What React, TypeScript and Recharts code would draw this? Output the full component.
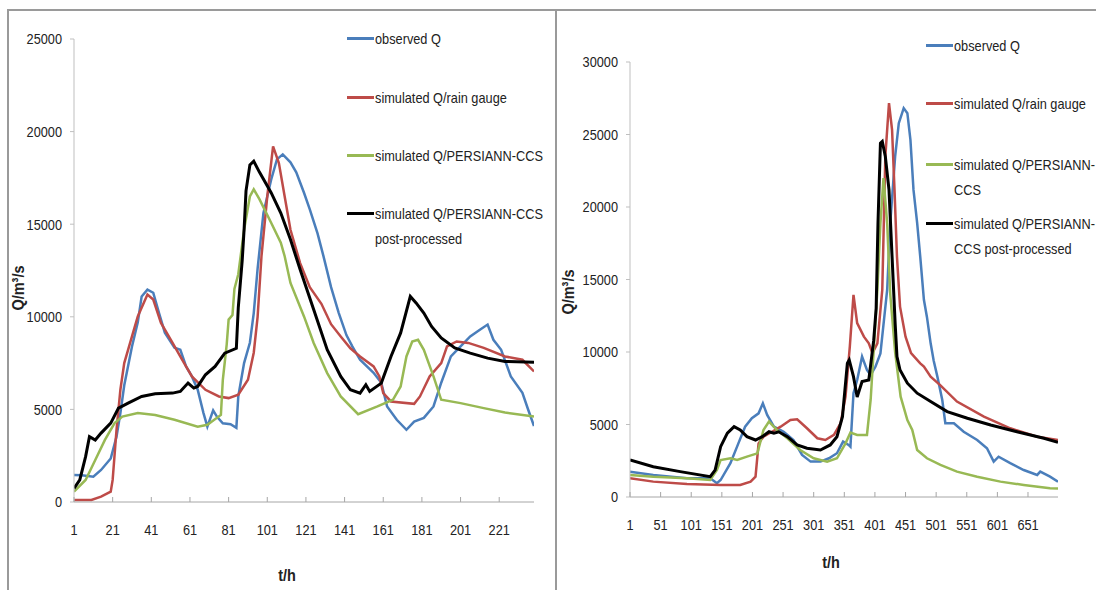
import { LineChart, Line, XAxis, YAxis } from 'recharts';

type Pt = [number, number];

// left event, hours 1..239, discharge m3/s
const leftObserved: Pt[] = [
  [1, 1460], [5, 1450], [11, 1370], [15, 1730], [20, 2350], [23, 3530], [25, 4800], [27, 6300],
  [31, 8400], [34, 9700], [36, 11100], [39, 11470], [42, 11300], [45, 10200], [48, 9140], [53, 8330],
  [56, 8220], [59, 7320], [62, 6780], [65, 6060], [68, 4800], [70, 4070], [73, 4950], [75, 4600],
  [78, 4250], [82, 4200], [85, 4000], [86, 5700], [89, 7500], [92, 8600], [94, 10200], [96, 12600],
  [99, 15600], [103, 17400], [106, 18500], [109, 18770], [113, 18340], [116, 17800], [120, 16700],
  [123, 15800], [127, 14500], [130, 13300], [134, 11600], [138, 10200], [142, 9000], [145, 8400],
  [149, 7680], [156, 6980], [160, 6440], [163, 5160], [168, 4440], [173, 3900], [177, 4340],
  [182, 4540], [187, 5160], [191, 6440], [196, 7860], [201, 8400], [206, 8940], [211, 9300],
  [215, 9580], [218, 8760], [222, 8220], [227, 6780], [233, 5900], [236, 4980], [239, 4100],
];
const leftRainGauge: Pt[] = [
  [1, 110], [10, 110], [15, 290], [20, 560], [21, 1190], [23, 3900], [25, 6060], [27, 7500],
  [31, 8940], [34, 10020], [39, 11200], [42, 10930], [46, 9670], [52, 8590], [57, 7680], [62, 6780],
  [69, 6060], [76, 5700], [81, 5610], [86, 5790], [91, 6600], [94, 8060], [96, 10000], [98, 13270],
  [101, 16500], [104, 19200], [107, 18300], [110, 16500], [113, 14700], [118, 12900], [123, 11600],
  [129, 10700], [134, 9600], [139, 8940], [144, 8300], [149, 7860], [156, 7320], [159, 6780],
  [161, 5880], [165, 5430], [177, 5300], [180, 5700], [185, 6780], [191, 7500], [194, 8400],
  [199, 8670], [205, 8590], [213, 8320], [224, 7860], [233, 7680], [239, 7050],
];
const leftPersiann: Pt[] = [
  [1, 560], [7, 1190], [12, 2270], [17, 3350], [22, 4260], [26, 4610], [34, 4800], [43, 4700],
  [53, 4440], [65, 4070], [70, 4170], [77, 4700], [78, 6600], [80, 8500], [81, 9850], [83, 10100],
  [84, 11500], [86, 12300], [89, 14700], [92, 16500], [94, 16880], [97, 16340], [103, 15080],
  [108, 14000], [110, 13270], [113, 11830], [120, 10020], [125, 8590], [132, 6960], [139, 5700],
  [148, 4740], [158, 5160], [166, 5520], [170, 6240], [173, 7860], [176, 8670], [179, 8760],
  [182, 8220], [187, 6780], [191, 5520], [201, 5340], [213, 5070], [224, 4830], [239, 4610],
];
const leftPostProcessed: Pt[] = [
  [1, 740], [4, 1190], [7, 2450], [9, 3530], [12, 3350], [15, 3720], [20, 4260], [24, 5070],
  [29, 5340], [36, 5700], [43, 5840], [52, 5880], [56, 5970], [60, 6420], [63, 6150], [65, 6240],
  [69, 6870], [74, 7320], [79, 8040], [85, 8300], [86, 10500], [88, 13000], [89, 14700],
  [90, 16800], [92, 18200], [94, 18400], [97, 17800], [103, 16700], [108, 15600], [113, 14170],
  [118, 12550], [125, 10390], [132, 8220], [139, 6780], [144, 6060], [149, 5880], [152, 6330],
  [154, 5970], [160, 6420], [165, 7860], [170, 9130], [175, 11100], [178, 10750], [182, 10200],
  [186, 9480], [191, 8860], [198, 8320], [206, 8040], [215, 7770], [224, 7590], [239, 7540],
];

// right event, hours 1..700
const rightObserved: Pt[] = [
  [1, 1750], [39, 1520], [94, 1290], [132, 1290], [143, 950], [149, 1170], [165, 2330], [178, 3700],
  [189, 4850], [200, 5430], [211, 5770], [218, 6460], [225, 5660], [236, 4850], [252, 4500],
  [268, 3930], [282, 2900], [296, 2440], [312, 2440], [326, 2670], [339, 3020], [349, 3820],
  [358, 3590], [361, 3470], [366, 7160], [372, 8070], [380, 9680], [388, 8760], [394, 8400],
  [402, 9000], [410, 9900], [421, 14280], [426, 18890], [434, 23480], [440, 25780], [448, 26820],
  [454, 26470], [459, 24630], [464, 21180], [470, 18890], [475, 16580], [481, 13600], [486, 12400],
  [492, 10600], [497, 9400], [503, 8300], [511, 6690], [516, 5090], [530, 5090], [546, 4500],
  [568, 3930], [584, 3360], [595, 2440], [603, 2780], [622, 2330], [644, 1860], [666, 1520],
  [671, 1750], [687, 1400], [700, 1060],
];
const rightRainGauge: Pt[] = [
  [1, 1290], [39, 1060], [94, 900], [149, 830], [181, 830], [198, 1060], [206, 1400], [211, 3700],
  [219, 4160], [233, 4500], [247, 4850], [263, 5310], [274, 5360], [290, 4740], [307, 4050],
  [320, 3930], [334, 4280], [345, 5090], [353, 6920], [360, 10370], [366, 13940], [372, 11990],
  [383, 11060], [391, 10600], [397, 9920], [405, 10600], [413, 14280], [418, 23480], [424, 27170],
  [429, 25320], [433, 21180], [437, 16580], [442, 13130], [451, 11060], [460, 9920], [475, 9220],
  [481, 8990], [492, 8300], [508, 7700], [535, 6580], [579, 5540], [622, 4740], [666, 4160],
  [700, 3930],
];
const rightPersiann: Pt[] = [
  [1, 1520], [39, 1400], [94, 1290], [132, 1170], [143, 1860], [149, 2550], [165, 2670], [176, 2550],
  [192, 2780], [209, 3010], [219, 4620], [228, 5200], [241, 4620], [258, 4050], [279, 3240],
  [301, 2670], [323, 2440], [339, 2670], [353, 3700], [361, 4450], [372, 4280], [388, 4280],
  [394, 6690], [399, 10140], [405, 14280], [410, 18890], [415, 21990], [421, 18890], [426, 14000],
  [434, 10000], [443, 6920], [454, 5310], [462, 4620], [470, 3240], [486, 2670], [508, 2210],
  [535, 1750], [568, 1400], [606, 1060], [644, 830], [687, 600], [700, 580],
];
const rightPostProcessed: Pt[] = [
  [1, 2550], [39, 2090], [83, 1750], [132, 1400], [140, 1860], [149, 3470], [160, 4400], [171, 4850],
  [181, 4620], [192, 4160], [206, 3930], [217, 4160], [228, 4500], [236, 4400], [244, 4500],
  [258, 4160], [274, 3590], [290, 3360], [312, 3240], [328, 3590], [339, 4160], [348, 5540],
  [356, 9230], [359, 9450], [366, 8300], [372, 6900], [380, 7960], [391, 8070], [399, 10800],
  [403, 13000], [406, 18900], [410, 24400], [413, 24520], [418, 23480], [424, 21180], [429, 16580],
  [434, 11990], [437, 9680], [442, 8760], [454, 7850], [470, 7160], [492, 6580], [519, 5890],
  [552, 5430], [590, 4970], [633, 4500], [677, 4050], [700, 3770],
];

const leftHourTicks = [1, 21, 41, 61, 81, 101, 121, 141, 161, 181, 201, 221];
const leftQTicks = [0, 5000, 10000, 15000, 20000, 25000];
const rightHourTicks = [1, 51, 101, 151, 201, 251, 301, 351, 401, 451, 501, 551, 601, 651];
const rightQTicks = [0, 5000, 10000, 15000, 20000, 25000, 30000];

const colors = ['#4a7ebb', '#be4b48', '#98b954', '#000000'];
const leftLegend = [['observed Q'], ['simulated Q/rain gauge'], ['simulated Q/PERSIANN-CCS'], ['simulated Q/PERSIANN-CCS', 'post-processed']];
const rightLegend = [['observed Q'], ['simulated Q/rain gauge'], ['simulated Q/PERSIANN-', 'CCS'], ['simulated Q/PERSIANN-', 'CCS post-processed']];

// no narrow font installed, so squeeze Liberation Sans horizontally
const font = '"Liberation Sans", Arial, sans-serif';
const squeeze = 0.85;

const rows = (pts: Pt[]) => pts.map(([t, q]) => ({ t, q }));

const HourTick = (props: any) => {
  const { x, y, payload } = props;
  return (
    <g>
      <line x1={x} x2={x} y1={y} y2={y - 5} stroke="#a6a6a6" />
      <text
        transform={`translate(${x} ${y + 33}) scale(${squeeze} 1)`}
        textAnchor="middle" fontSize={15} fill="#222" fontFamily={font}
      >
        {payload.value}
      </text>
    </g>
  );
};

const QTick = (props: any) => {
  const { x, y, payload } = props;
  return (
    <text
      transform={`translate(${x} ${y}) scale(${squeeze} 1)`}
      dy="0.355em" textAnchor="end" fontSize={15} fill="#222" fontFamily={font}
    >
      {payload.value}
    </text>
  );
};

function Panel(props: {
  width: number; height: number; margin: any; xMax: number; xTicks: number[];
  yTicks: number[]; series: Pt[][];
}) {
  const { width, height, margin, xMax, xTicks, yTicks, series } = props;
  return (
    <LineChart width={width} height={height} margin={margin}>
      <XAxis
        type="number" dataKey="t" domain={[1, xMax]} ticks={xTicks} interval={0}
        stroke="#a6a6a6" tickLine={false} tickSize={0} tickMargin={0} height={30}
        tick={<HourTick />} allowDataOverflow
      />
      <YAxis
        type="number" domain={[0, yTicks[yTicks.length - 1]]} ticks={yTicks} interval={0}
        stroke="#bfbfbf" tickSize={4} tickMargin={8} width={60} tick={<QTick />}
      />
      {series.map((s, i) => (
        <Line
          key={i} data={rows(s)} dataKey="q" type="linear" stroke={colors[i]}
          strokeWidth={i === 3 ? 3 : 2.5} dot={false} isAnimationActive={false}
        />
      ))}
    </LineChart>
  );
}

function LegendBlock({ left, tops, entries }: { left: number; tops: number[]; entries: string[][] }) {
  return (
    <>
      {entries.map((lines, i) => (
        <div key={i}>
          <div style={{ position: 'absolute', left, top: tops[i] - 1.5, width: 27, height: 3, background: colors[i] }} />
          <div style={{
            position: 'absolute', left: left + 28, top: tops[i] - 12, fontFamily: font,
            fontSize: 15, lineHeight: '25px', color: '#222', whiteSpace: 'nowrap',
            transform: `scaleX(${squeeze})`, transformOrigin: 'left top',
          }}>
            {lines.map((l, j) => <div key={j}>{l}</div>)}
          </div>
        </div>
      ))}
    </>
  );
}

const titleStyle: any = { position: 'absolute', fontFamily: font, fontWeight: 'bold', fontSize: 17, color: '#222', whiteSpace: 'nowrap' };

export default function App() {
  return (
    <div style={{ position: 'absolute', left: 0, top: 0, width: 1096, height: 590, overflow: 'hidden', background: '#fff' }}>
      <div style={{ position: 'absolute', left: 7, top: 9, width: 546, height: 600, border: '2px solid #9a9a9a' }} />
      <div style={{ position: 'absolute', left: 555, top: 9, width: 541, height: 2, background: '#9a9a9a' }} />

      <div style={{ position: 'absolute', left: 0, top: 0 }}>
        <Panel
          width={556} height={590} margin={{ top: 39, right: 22, bottom: 58, left: 14 }}
          xMax={239} xTicks={leftHourTicks} yTicks={leftQTicks}
          series={[leftObserved, leftRainGauge, leftPersiann, leftPostProcessed]}
        />
      </div>
      <div style={{ position: 'absolute', left: 556, top: 0 }}>
        <Panel
          width={540} height={590} margin={{ top: 62, right: 38, bottom: 63, left: 14 }}
          xMax={700} xTicks={rightHourTicks} yTicks={rightQTicks}
          series={[rightObserved, rightRainGauge, rightPersiann, rightPostProcessed]}
        />
      </div>

      <LegendBlock left={347} tops={[38, 97, 155, 213]} entries={leftLegend} />
      <LegendBlock left={926} tops={[45, 103, 164, 223]} entries={rightLegend} />

      <div style={{ ...titleStyle, left: 19, top: 288, transform: `translate(-50%, -50%) rotate(-90deg) scaleX(${squeeze})` }}>Q/m³/s</div>
      <div style={{ ...titleStyle, left: 569, top: 292, transform: `translate(-50%, -50%) rotate(-90deg) scaleX(${squeeze})` }}>Q/m³/s</div>
      <div style={{ ...titleStyle, left: 287, top: 576, transform: `translate(-50%, -50%) scaleX(${squeeze})` }}>t/h</div>
      <div style={{ ...titleStyle, left: 831, top: 563, transform: `translate(-50%, -50%) scaleX(${squeeze})` }}>t/h</div>
    </div>
  );
}
